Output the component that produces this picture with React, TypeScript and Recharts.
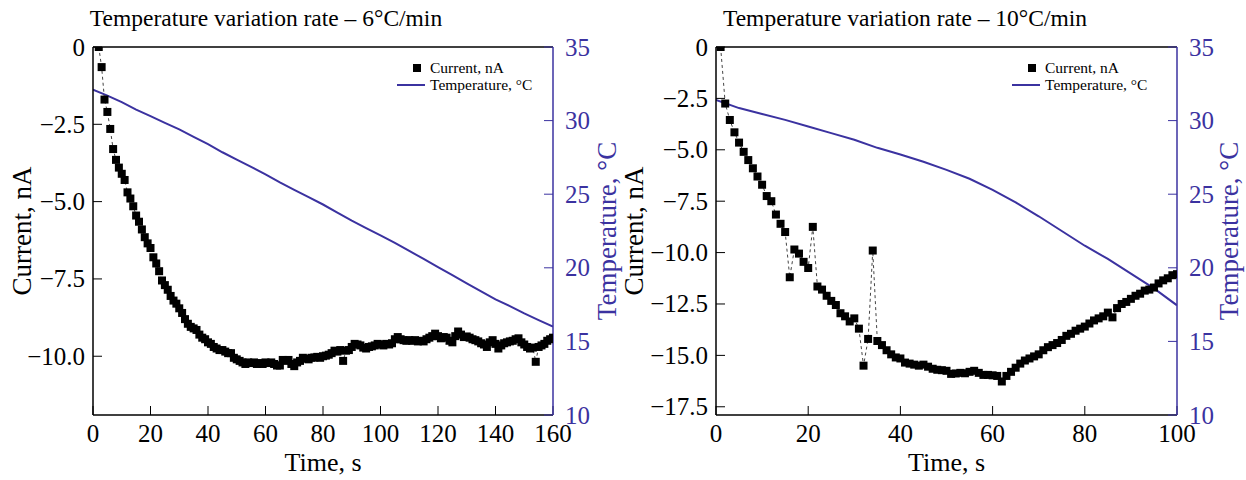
import React from "react";
import { ComposedChart, Line, XAxis, YAxis, ReferenceLine } from "recharts";

// 6 °C/min run: current sampled every second from t = 2 s
const current6Start = 2;
const current6 = [
  0, -0.65, -1.7, -2.1, -2.65, -3.3, -3.65, -3.9, -4.1, -4.3,
  -4.7, -4.9, -5.15, -5.45, -5.65, -5.9, -6.15, -6.35, -6.5, -6.8,
  -7.0, -7.25, -7.55, -7.7, -7.85, -8.05, -8.2, -8.3, -8.45, -8.6,
  -8.8, -8.95, -9.05, -9.1, -9.15, -9.3, -9.4, -9.45, -9.55, -9.6,
  -9.7, -9.75, -9.8, -9.8, -9.85, -9.9, -9.9, -10.05, -10.1, -10.15,
  -10.2, -10.25, -10.2, -10.22, -10.2, -10.25, -10.22, -10.25, -10.2, -10.22,
  -10.2, -10.25, -10.3, -10.3, -10.12, -10.15, -10.12, -10.25, -10.32, -10.2,
  -10.15, -10.05, -10.08, -10.1, -10.05, -10.04, -10.02, -10.05, -10.0, -9.98,
  -9.95, -9.9, -9.82, -9.85, -9.8, -10.15, -9.82, -9.8, -9.7, -9.6,
  -9.62, -9.65, -9.72, -9.75, -9.7, -9.68, -9.65, -9.6, -9.62, -9.65,
  -9.6, -9.62, -9.58, -9.45, -9.38, -9.45, -9.48, -9.5, -9.48, -9.5,
  -9.48, -9.52, -9.5, -9.52, -9.45, -9.4, -9.35, -9.27, -9.35, -9.42,
  -9.38, -9.4, -9.5, -9.55, -9.35, -9.2, -9.3, -9.38, -9.36, -9.4,
  -9.45, -9.48, -9.52, -9.58, -9.62, -9.7, -9.55, -9.48, -9.6, -9.75,
  -9.65, -9.58, -9.55, -9.52, -9.5, -9.45, -9.42, -9.55, -9.62, -9.7,
  -9.75, -9.72, -10.18, -9.7, -9.65, -9.6, -9.5, -9.45, -9.4,
];
const temp6Time = [0, 5, 10, 15, 20, 25, 30, 35, 40, 45, 50, 55, 60, 65, 70, 75, 80, 85, 90, 95, 100, 105, 110, 115, 120, 125, 130, 135, 140, 145, 150, 155, 160];
const temp6 = [32.1, 31.7, 31.25, 30.75, 30.3, 29.85, 29.4, 28.9, 28.4, 27.85, 27.35, 26.85, 26.35, 25.8, 25.3, 24.8, 24.3, 23.75, 23.2, 22.7, 22.2, 21.7, 21.15, 20.6, 20.05, 19.5, 18.95, 18.4, 17.85, 17.4, 16.9, 16.45, 16.0];

// 10 °C/min run: current sampled every second from t = 1 s
const current10Start = 1;
const current10 = [
  0, -2.75, -3.55, -4.15, -4.65, -5.1, -5.5, -5.9, -6.3, -6.7,
  -7.25, -7.5, -8.15, -8.6, -9.0, -11.2, -9.85, -10.05, -10.45, -10.75,
  -8.75, -11.65, -11.8, -12.1, -12.35, -12.55, -12.95, -13.1, -13.35, -13.2,
  -13.7, -15.5, -14.2, -9.9, -14.3, -14.5, -14.75, -14.95, -15.1, -15.15,
  -15.35, -15.4, -15.45, -15.5, -15.45, -15.55, -15.65, -15.7, -15.72, -15.75,
  -15.9, -15.88, -15.85, -15.87, -15.8, -15.75, -15.85, -15.95, -15.95, -15.97,
  -16.0, -16.27, -16.0, -15.8, -15.6, -15.4, -15.25, -15.15, -15.05, -14.95,
  -14.75, -14.6, -14.5, -14.4, -14.25, -14.05, -13.95, -13.8, -13.7, -13.6,
  -13.45, -13.3, -13.2, -13.1, -12.92, -13.15, -12.7, -12.5, -12.4, -12.25,
  -12.1, -12.0, -11.85, -11.8, -11.7, -11.5, -11.35, -11.25, -11.1, -11.05,
];
const temp10Time = [0, 5, 10, 15, 20, 25, 30, 35, 40, 45, 50, 55, 60, 65, 70, 75, 80, 85, 90, 95, 100];
const temp10 = [31.4, 30.85, 30.45, 30.05, 29.6, 29.15, 28.7, 28.15, 27.7, 27.2, 26.65, 26.05, 25.3, 24.45, 23.5, 22.5, 21.5, 20.6, 19.6, 18.6, 17.45];

const currentTicks6 = [0, -2.5, -5, -7.5, -10];
const currentTicks10 = [0, -2.5, -5, -7.5, -10, -12.5, -15, -17.5];
const tempTicks = [10, 15, 20, 25, 30, 35];
const timeTicks6 = [0, 20, 40, 60, 80, 100, 120, 140, 160];
const timeTicks10 = [0, 20, 40, 60, 80, 100];

const BLUE = "#3b32a0";
const FONT = "'Liberation Serif', 'Times New Roman', serif";

const fmtCurrent = (v: number) => (v === 0 ? "0" : v.toFixed(1).replace("-", "\u2212"));
const fmtPlain = (v: number) => String(v);

// tick label drawn as plain svg text so the serif font is applied for sure
const makeTick = (anchor: "start" | "middle" | "end", fill: string, fmt: (v: number) => string, dy: string) =>
  (props: any) => (
    <text
      key={`t-${props.index}-${props.payload?.value}`}
      x={props.x}
      y={props.y}
      dy={dy}
      textAnchor={anchor}
      fill={fill}
      style={{ fontFamily: FONT, fontSize: 25 }}
    >
      {fmt(props.payload.value)}
    </text>
  );

const Square = (props: any) => {
  const { cx, cy, index } = props;
  if (cx == null || cy == null) return <g key={`s-${index}`} />;
  return <rect key={`s-${index}`} x={cx - 4} y={cy - 4} width={8} height={8} fill="#000" />;
};

type PanelProps = {
  left: number;
  width: number;
  title: string;
  titleX: number;
  current: number[];
  start: number;
  tempTime: number[];
  temp: number[];
  xMax: number;
  xTicks: number[];
  yMin: number;
  yTicks: number[];
  rightAxisWidth: number;
  legendX: number;
  currentLabelX: number;
  tempLabelX: number;
};

function Panel(p: PanelProps) {
  const currentData = p.current.map((v, i) => ({ t: p.start + i, i: v }));
  const tempData = p.temp.map((v, i) => ({ t: p.tempTime[i], T: v }));

  return (
    <>
      <div style={{ position: "absolute", left: p.left, top: 0 }}>
        <ComposedChart width={p.width} height={480} margin={{ top: 47, right: 0, bottom: 0, left: 0 }}>
          <XAxis
            type="number"
            dataKey="t"
            domain={[0, p.xMax]}
            ticks={p.xTicks}
            allowDataOverflow
            height={65}
            stroke="#000"
            tickSize={-9}
            tickMargin={18}
            tick={makeTick("middle", "#000", fmtPlain, "0.71em")}
            axisLine={{ stroke: "#000", strokeWidth: 1.5 }}
          />
          <YAxis
            yAxisId="left"
            orientation="left"
            type="number"
            width={93}
            domain={[p.yMin, 0]}
            ticks={p.yTicks}
            allowDataOverflow
            stroke="#000"
            tickSize={-9}
            tickMargin={17}
            tick={makeTick("end", "#000", fmtCurrent, "0.34em")}
            axisLine={{ stroke: "#000", strokeWidth: 1.5 }}
          />
          <YAxis
            yAxisId="right"
            orientation="right"
            type="number"
            width={p.rightAxisWidth}
            domain={[10, 35]}
            ticks={tempTicks}
            allowDataOverflow
            stroke={BLUE}
            tickSize={-9}
            tickMargin={21}
            tick={makeTick("start", BLUE, fmtPlain, "0.34em")}
            axisLine={{ stroke: BLUE, strokeWidth: 1.5 }}
          />
          <ReferenceLine yAxisId="left" y={0} stroke="#000" strokeWidth={1.5} />
          <Line
            yAxisId="right"
            data={tempData}
            dataKey="T"
            type="linear"
            stroke={BLUE}
            strokeWidth={2}
            dot={false}
            isAnimationActive={false}
          />
          <Line
            yAxisId="left"
            data={currentData}
            dataKey="i"
            type="linear"
            stroke="#444"
            strokeWidth={1}
            strokeDasharray="3 3"
            dot={Square}
            isAnimationActive={false}
          />
        </ComposedChart>
      </div>
      <div
        style={{
          position: "absolute",
          left: p.titleX,
          top: 18,
          transform: "translate(-50%, -50%)",
          fontFamily: FONT,
          fontSize: 23.5,
          whiteSpace: "nowrap",
          color: "#000",
        }}
      >
        {p.title}
      </div>
      <div
        style={{
          position: "absolute",
          left: p.left + 93 + (p.width - 93 - p.rightAxisWidth) / 2,
          top: 463,
          transform: "translate(-50%, -50%)",
          fontFamily: FONT,
          fontSize: 26,
          whiteSpace: "nowrap",
        }}
      >
        Time, s
      </div>
      <div
        style={{
          position: "absolute",
          left: p.currentLabelX,
          top: 231,
          transform: "translate(-50%, -50%) rotate(-90deg)",
          fontFamily: FONT,
          fontSize: 27,
          lineHeight: 1,
          whiteSpace: "nowrap",
        }}
      >
        Current, nA
      </div>
      <div
        style={{
          position: "absolute",
          left: p.tempLabelX,
          top: 231,
          transform: "translate(-50%, -50%) rotate(-90deg)",
          fontFamily: FONT,
          fontSize: 27,
          lineHeight: 1,
          whiteSpace: "nowrap",
          color: BLUE,
        }}
      >
        Temperature, °C
      </div>
      <div style={{ position: "absolute", left: p.legendX, top: 60, fontFamily: FONT, fontSize: 15.5, lineHeight: "16.5px" }}>
        <div style={{ display: "flex", alignItems: "center", height: 16.5 }}>
          <span style={{ width: 33, display: "inline-flex", justifyContent: "center" }}>
            <span style={{ width: 8, height: 8, background: "#000", display: "inline-block", marginLeft: 6 }} />
          </span>
          <span>Current, nA</span>
        </div>
        <div style={{ display: "flex", alignItems: "center", height: 16.5 }}>
          <span style={{ width: 33, display: "inline-flex", alignItems: "center" }}>
            <span style={{ width: 28, height: 2, background: BLUE, display: "inline-block" }} />
          </span>
          <span>Temperature, °C</span>
        </div>
      </div>
    </>
  );
}

export default function App() {
  return (
    <div
      style={{
        position: "fixed",
        left: 0,
        top: 0,
        width: 1246,
        height: 480,
        background: "#fff",
        overflow: "hidden",
        fontFamily: FONT,
      }}
    >
      <Panel
        left={0}
        width={620}
        title="Temperature variation rate – 6°C/min"
        titleX={266}
        current={current6}
        start={current6Start}
        tempTime={temp6Time}
        temp={temp6}
        xMax={160}
        xTicks={timeTicks6}
        yMin={-11.9}
        yTicks={currentTicks6}
        rightAxisWidth={67}
        legendX={397}
        currentLabelX={22}
        tempLabelX={607}
      />
      <Panel
        left={623}
        width={623}
        title="Temperature variation rate – 10°C/min"
        titleX={905}
        current={current10}
        start={current10Start}
        tempTime={temp10Time}
        temp={temp10}
        xMax={100}
        xTicks={timeTicks10}
        yMin={-17.9}
        yTicks={currentTicks10}
        rightAxisWidth={69}
        legendX={1012}
        currentLabelX={634}
        tempLabelX={1229}
      />
    </div>
  );
}
